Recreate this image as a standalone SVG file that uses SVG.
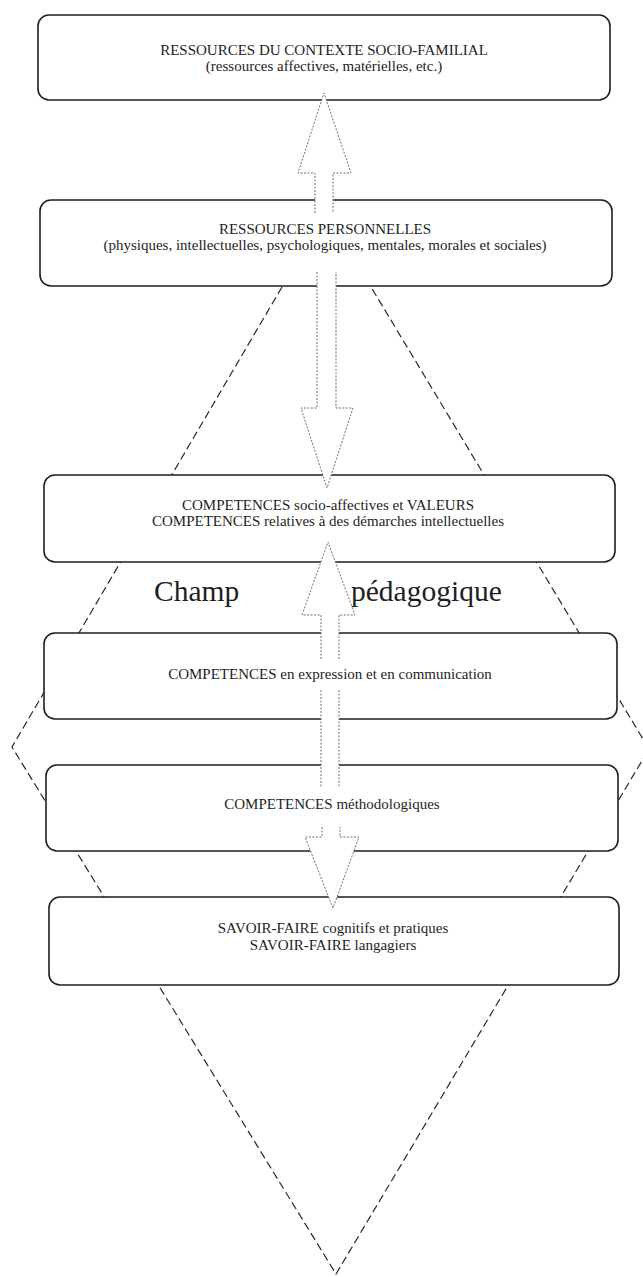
<svg xmlns="http://www.w3.org/2000/svg" width="643" height="1277" viewBox="0 0 643 1277">
<style>
.bg{fill:#ffffff}
.box{fill:#ffffff;stroke:#1e1e1e;stroke-width:1.6}
.t{font-family:"Liberation Serif","Times New Roman",serif;font-size:15px;fill:#1e1e1e;text-anchor:middle}
.big{font-family:"Liberation Serif","Times New Roman",serif;font-size:29.5px;fill:#1e1e1e}
.champ{fill:none;stroke:#2a2a2a;stroke-width:1.2;stroke-dasharray:8 4}
.arrow{fill:#ffffff;stroke:#6f6f6f;stroke-width:1;stroke-dasharray:2 1.5}
.fillonly{fill:#ffffff;stroke:none}
.shaft{fill:none;stroke:#6f6f6f;stroke-width:1;stroke-dasharray:2 1.5}
</style>
<rect class="bg" x="0" y="0" width="643" height="1277"/>

<g id="champ">
  <polyline class="champ" points="282,287 12,747 336,1274 649,749 371,287"/>
  <text class="big" x="154" y="601">Champ</text>
  <text class="big" x="351" y="601">pédagogique</text>
</g>

<g id="node-contexte">
  <rect class="box" x="38" y="15" width="572" height="85" rx="11"/>
  <text class="t" x="324" y="55">RESSOURCES DU CONTEXTE SOCIO-FAMILIAL</text>
  <text class="t" x="324" y="71">(ressources affectives, matérielles, etc.)</text>
</g>

<g id="node-personnelles">
  <rect class="box" x="40" y="200" width="572" height="86" rx="11"/>
  <text class="t" x="325" y="234">RESSOURCES PERSONNELLES</text>
  <text class="t" x="325" y="250">(physiques, intellectuelles, psychologiques, mentales, morales et sociales)</text>
</g>

<g id="node-socio-affectives">
  <rect class="box" x="44" y="475" width="571" height="87" rx="11"/>
  <text class="t" x="328" y="510">COMPETENCES socio-affectives et VALEURS</text>
  <text class="t" x="328" y="526">COMPETENCES relatives à des démarches intellectuelles</text>
</g>

<g id="node-expression">
  <rect class="box" x="44" y="633" width="573" height="86" rx="11"/>
  <text class="t" x="330" y="679">COMPETENCES en expression et en communication</text>
</g>

<g id="node-methodologiques">
  <rect class="box" x="46" y="765" width="572" height="86" rx="11"/>
  <text class="t" x="332" y="809">COMPETENCES méthodologiques</text>
</g>

<g id="node-savoir-faire">
  <rect class="box" x="49" y="897" width="570" height="88" rx="11"/>
  <text class="t" x="333" y="933">SAVOIR-FAIRE cognitifs et pratiques</text>
  <text class="t" x="333" y="950">SAVOIR-FAIRE langagiers</text>
</g>

<g id="connectors">
  <path class="arrow" d="M315,213 L315,173 L298,173 L324,93 L351,173 L333,173 L333,213"/>
  <path class="arrow" d="M317,272 L317,408 L301,408 L327,488 L353,408 L336,408 L336,272"/>
  <path class="arrow" d="M321,659 L321,615 L302,615 L328,542 L355,615 L339,615 L339,659"/>
  <rect class="fillonly" x="321" y="690" width="18" height="98"/>
  <path class="shaft" d="M321,690 L321,788 M339,690 L339,788"/>
  <path class="arrow" d="M322,827 L322,837 L305,837 L333,908 L359,837 L340,837 L340,827"/>
</g>
</svg>
